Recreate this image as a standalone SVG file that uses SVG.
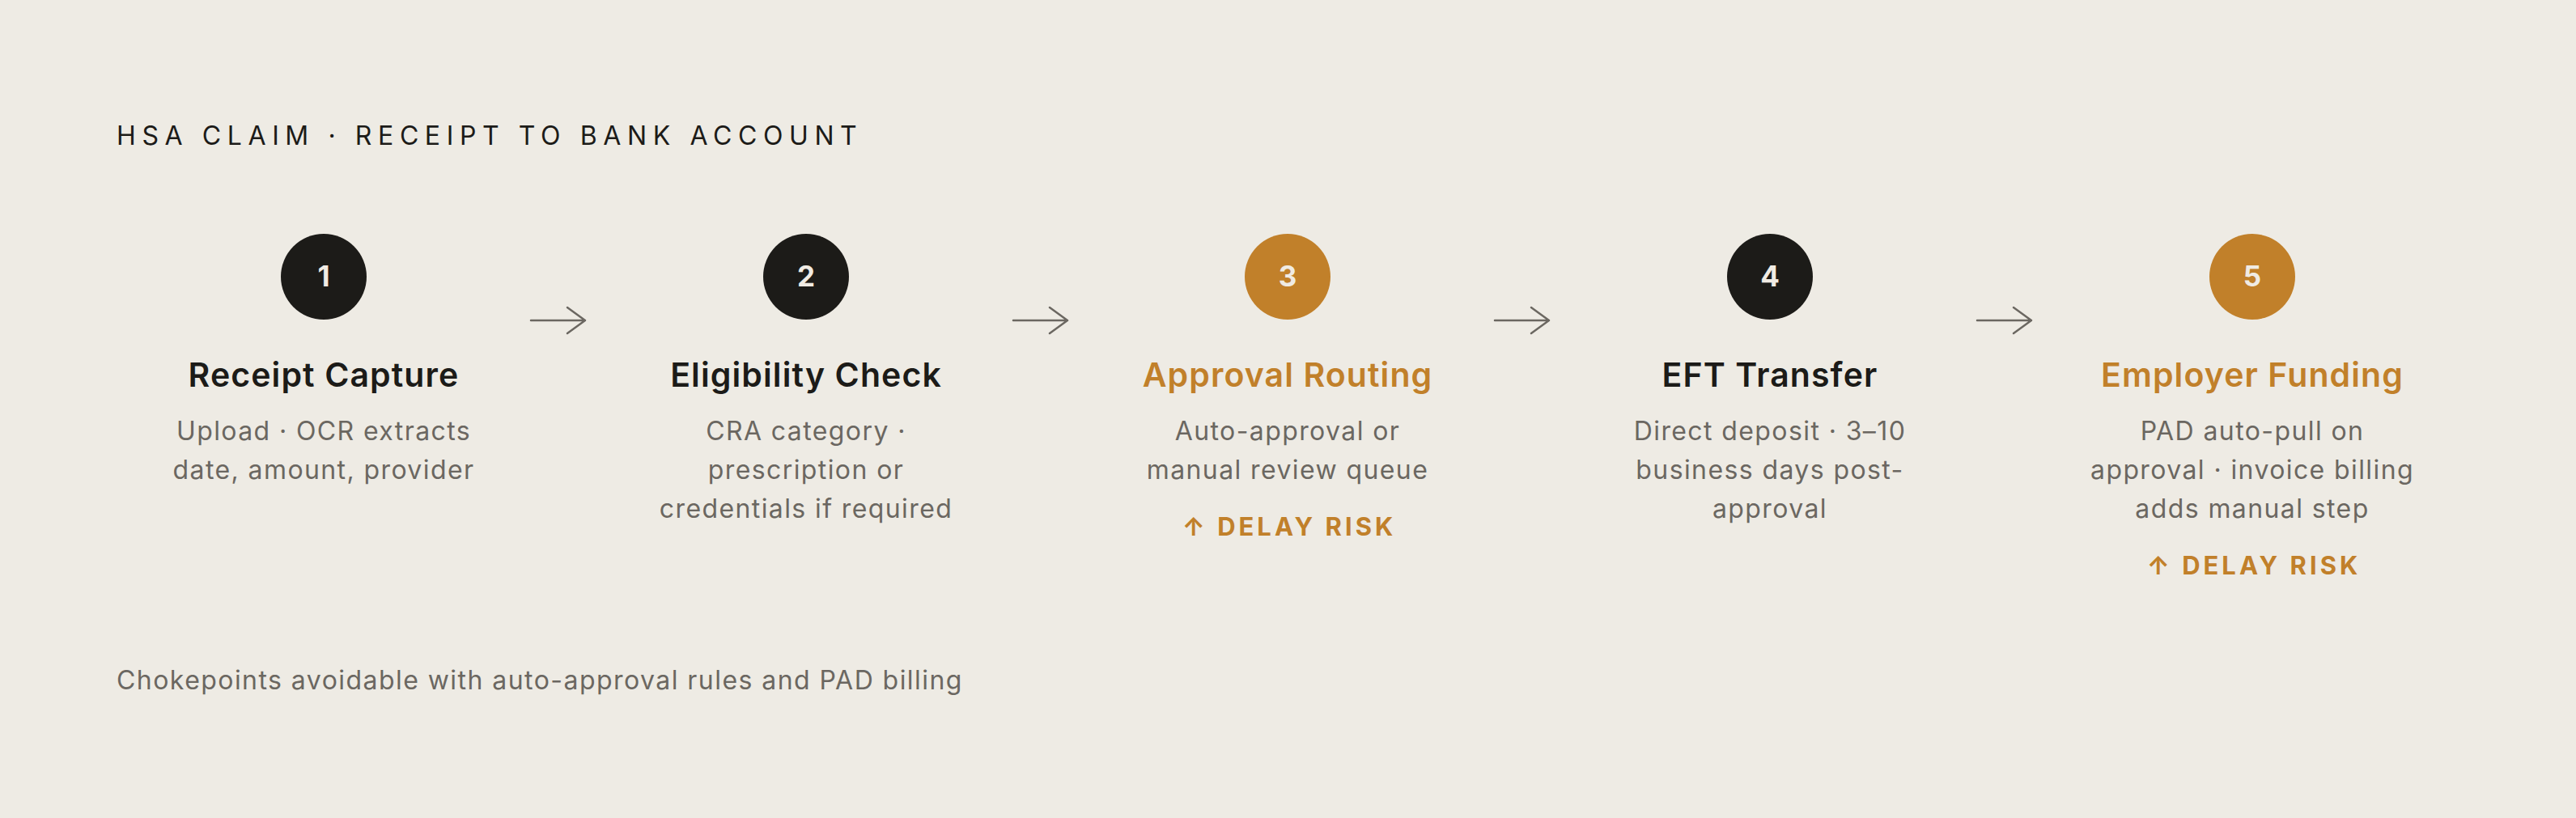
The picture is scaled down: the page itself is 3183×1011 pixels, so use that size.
<svg xmlns="http://www.w3.org/2000/svg" width="3183" height="1011" viewBox="0 0 3183 1011">
  <style>
    .t { font-family: Inter, "Noto Sans", "DejaVu Sans", sans-serif; }
    .title { font-size: 32px; font-weight: 400; fill: #1c1b18; letter-spacing: 7.6px; }
    .num { font-size: 35px; font-weight: 700; fill: #f0ebe3; text-anchor: middle; }
    .head { font-size: 41px; font-weight: 600; text-anchor: middle; fill: #1c1b18; letter-spacing: 1.1px; }
    .head.acc { fill: #c1802a; }
    .desc { font-size: 32px; font-weight: 400; fill: #6b6761; text-anchor: middle; letter-spacing: 1.4px; }
    .risk { font-size: 31px; font-weight: 700; fill: #c1802a; text-anchor: middle; letter-spacing: 4px; }
    .foot { font-size: 32px; font-weight: 400; fill: #6b6761; letter-spacing: 1.45px; }
    .dark { fill: #1c1b18; }
    .orange { fill: #c1802a; }
    .conn { fill: none; stroke: #6b6761; stroke-width: 2.5; stroke-linecap: round; stroke-linejoin: round; }
  </style>
  <rect width="3183" height="1011" fill="#eeebe4"/>
  <text class="t title" x="144" y="179">HSA CLAIM · RECEIPT TO BANK ACCOUNT</text>

  <g id="connectors">
    <path class="conn" d="M656 396 H723 M701 380 L723 396 L701 412"/>
    <path class="conn" d="M1252 396 H1319 M1297 380 L1319 396 L1297 412"/>
    <path class="conn" d="M1847 396 H1914 M1892 380 L1914 396 L1892 412"/>
    <path class="conn" d="M2443 396 H2510 M2488 380 L2510 396 L2488 412"/>
  </g>

  <g id="step1">
    <circle class="dark" cx="400" cy="342" r="53"/>
    <text class="t num" x="400" y="354">1</text>
    <text class="t head" x="400" y="478">Receipt Capture</text>
    <text class="t desc" x="400" y="544">Upload · OCR extracts</text>
    <text class="t desc" x="400" y="592">date, amount, provider</text>
  </g>

  <g id="step2">
    <circle class="dark" cx="996" cy="342" r="53"/>
    <text class="t num" x="996" y="354">2</text>
    <text class="t head" x="996" y="478">Eligibility Check</text>
    <text class="t desc" x="996" y="544">CRA category ·</text>
    <text class="t desc" x="996" y="592">prescription or</text>
    <text class="t desc" x="996" y="640">credentials if required</text>
  </g>

  <g id="step3">
    <circle class="orange" cx="1591" cy="342" r="53"/>
    <text class="t num" x="1591" y="354">3</text>
    <text class="t head acc" x="1591" y="478">Approval Routing</text>
    <text class="t desc" x="1591" y="544">Auto-approval or</text>
    <text class="t desc" x="1591" y="592">manual review queue</text>
    <text class="t risk" x="1593" y="662">↑ DELAY RISK</text>
  </g>

  <g id="step4">
    <circle class="dark" cx="2187" cy="342" r="53"/>
    <text class="t num" x="2187" y="354">4</text>
    <text class="t head" x="2187" y="478">EFT Transfer</text>
    <text class="t desc" x="2187" y="544">Direct deposit · 3–10</text>
    <text class="t desc" x="2187" y="592">business days post-</text>
    <text class="t desc" x="2187" y="640">approval</text>
  </g>

  <g id="step5">
    <circle class="orange" cx="2783" cy="342" r="53"/>
    <text class="t num" x="2783" y="354">5</text>
    <text class="t head acc" x="2783" y="478">Employer Funding</text>
    <text class="t desc" x="2783" y="544">PAD auto-pull on</text>
    <text class="t desc" x="2783" y="592">approval · invoice billing</text>
    <text class="t desc" x="2783" y="640">adds manual step</text>
    <text class="t risk" x="2785" y="710">↑ DELAY RISK</text>
  </g>

  <text class="t foot" x="144" y="852">Chokepoints avoidable with auto-approval rules and PAD billing</text>
</svg>
